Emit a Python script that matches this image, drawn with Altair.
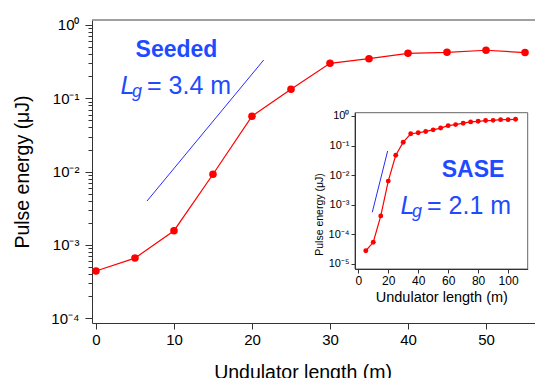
import altair as alt
import pandas as pd

# ---------------- data ----------------
# Seeded FEL (main panel)
seed_len = [0, 5, 10, 15, 20, 25, 30, 35, 40, 45, 50, 55]
seed_energy = [4.4e-4, 6.6e-4, 1.56e-3, 9.2e-3, 0.057, 0.133, 0.30, 0.347, 0.411, 0.424, 0.452, 0.42]
seed_fit_len = [6.54, 21.5]
seed_fit_energy = [3.96e-3, 0.333]

# SASE (inset)
sase_len = [5, 10, 15, 20, 25, 30, 35, 40, 45, 50, 55, 60, 65, 70, 75, 80, 85, 90, 95, 100, 105]
sase_energy = [2.8e-5, 5.4e-5, 4.2e-4, 6.3e-3, 0.047, 0.13, 0.25, 0.27, 0.30, 0.34, 0.39,
               0.47, 0.51, 0.57, 0.63, 0.66, 0.70, 0.71, 0.75, 0.75, 0.77]
sase_fit_len = [9.33, 19.6]
sase_fit_energy = [5.58e-4, 0.0657]

main_x_ticks = [0, 10, 20, 30, 40, 50]
main_y_major = [1e-4, 1e-3, 1e-2, 1e-1, 1e0]
main_y_minor = [m * 10 ** e for e in range(-4, 0) for m in range(2, 10)]
inset_x_ticks = [0, 20, 40, 60, 80, 100]
inset_y_major = [1e-5, 1e-4, 1e-3, 1e-2, 1e-1, 1e0]

x_title = "Undulator length (m)"
y_title = "Pulse energy (μJ)"

# ---------------- layout / style ----------------
W, H = 443, 303
FONT = "Liberation Sans"
RED = "#ff0000"
BLUE_TXT = "#1f4bff"
BLUE_LINE = "#2a2aff"
AX = "#333333"

MAIN_X_DOMAIN = [-0.51, 56.28]
MAIN_Y_DOMAIN = [10 ** -4.066, 10 ** 0.068]
INSET_X_DOMAIN = [-2.2, 113.1]
INSET_Y_DOMAIN = [10 ** -5.17, 10 ** 0.11]
INSET_X_RANGE = [263, 435.7]
INSET_Y_RANGE = [249, 92.7]

L10 = "(log(datum.value)/LN10)"
SUP = f"('' + round({L10}))"
for a, b in [("-", "⁻"), ("0", "⁰"), ("1", "¹"), ("2", "²"), ("3", "³"), ("4", "⁴"), ("5", "⁵")]:
    SUP = f"replace({SUP}, '{a}', '{b}')"
LOG_LABEL = f"'10' + {SUP}"

main_df = pd.DataFrame({"x": seed_len, "y": seed_energy})
seed_fit_df = pd.DataFrame({"x": seed_fit_len, "y": seed_fit_energy})
minor_df = pd.DataFrame({"my": main_y_minor})
sase_df = pd.DataFrame({"ix": sase_len, "iy": sase_energy})
sase_fit_df = pd.DataFrame({"ix": sase_fit_len, "iy": sase_fit_energy})
frame_df = pd.DataFrame({"ix": [INSET_X_DOMAIN[0]], "ix2": [INSET_X_DOMAIN[1]],
                         "iy": [INSET_Y_DOMAIN[0]], "iy2": [INSET_Y_DOMAIN[1]]})

main_x = alt.X(
    "x:Q",
    scale=alt.Scale(domain=MAIN_X_DOMAIN, nice=False, zero=False),
    axis=alt.Axis(values=main_x_ticks, title=x_title, tickSize=6, labelFontSize=15,
                  labelPadding=3, titleFontSize=19.5, titlePadding=16, titleX=210.5,
                  domainColor=AX, tickColor=AX, labelColor="black", titleColor="black",
                  grid=False),
)
main_y = alt.Y(
    "y:Q",
    scale=alt.Scale(type="log", domain=MAIN_Y_DOMAIN, nice=False),
    axis=alt.Axis(orient="left", values=main_y_major, labelExpr=LOG_LABEL, title=y_title,
                  tickSize=7, labelFontSize=15, labelPadding=6, titleFontSize=19.5,
                  titlePadding=18, domainColor=AX, tickColor=AX, labelColor="black",
                  titleColor="black", grid=False, labelOverlap=False),
)

main_line = alt.Chart(main_df).mark_line(color=RED, strokeWidth=1.2).encode(x=main_x, y=main_y)
main_pts = alt.Chart(main_df).mark_circle(color=RED, size=57, opacity=1).encode(x=main_x, y=main_y)
seed_fit = alt.Chart(seed_fit_df).mark_line(color=BLUE_LINE, strokeWidth=1).encode(x=main_x, y=main_y)
top_frame = alt.Chart(pd.DataFrame({"a": [0]})).mark_rule(color="#808080", strokeWidth=1.5).encode(
    x=alt.value(0), x2=alt.value(W), y=alt.value(0))


def label(txt, x, y, size, weight="normal", style="normal", align="left"):
    return alt.Chart(pd.DataFrame({"t": [txt]})).mark_text(
        font=FONT, fontSize=size, fontWeight=weight, fontStyle=style, color=BLUE_TXT,
        align=align, baseline="alphabetic").encode(text="t:N", x=alt.value(x), y=alt.value(y))


main_texts = [
    label("Seeded", 84.5, 37, 23, weight="bold", align="center"),
    label("L", 28.5, 74, 25, style="italic"),
    label("g", 40, 77, 18, style="italic"),
    label("= 3.4 m", 55, 74, 25),
]

main_layer = alt.layer(top_frame, seed_fit, main_line, main_pts, *main_texts)

# minor ticks of the main log axis (same scale, ticks only)
minor_layer = alt.Chart(minor_df).mark_point(opacity=0).encode(
    x=alt.value(0),
    y=alt.Y("my:Q", scale=alt.Scale(type="log", domain=MAIN_Y_DOMAIN, nice=False),
            axis=alt.Axis(orient="left", values=main_y_minor, tickSize=4, labels=False,
                          domain=False, title=None, tickColor=AX, grid=False)),
)

inset_x = alt.X(
    "ix:Q",
    scale=alt.Scale(domain=INSET_X_DOMAIN, range=INSET_X_RANGE, nice=False, zero=False),
    axis=alt.Axis(orient="bottom", offset=-(H - INSET_Y_RANGE[0]), values=inset_x_ticks,
                  title=x_title, tickSize=4, labelFontSize=12, labelPadding=2,
                  titleFontSize=14.5, titlePadding=4, domainColor=AX, tickColor=AX,
                  labelColor="black", titleColor="black", grid=False, zindex=1),
)
inset_y = alt.Y(
    "iy:Q",
    scale=alt.Scale(type="log", domain=INSET_Y_DOMAIN, range=INSET_Y_RANGE, nice=False),
    axis=alt.Axis(orient="left", offset=-INSET_X_RANGE[0], values=inset_y_major,
                  labelExpr=LOG_LABEL, title=y_title, tickSize=4, labelFontSize=11,
                  labelPadding=2, titleFontSize=10.5, titlePadding=4, titleY=194,
                  domainColor=AX, tickColor=AX, labelColor="black", titleColor="black",
                  grid=False, labelOverlap=False, zindex=1),
)

inset_frame = alt.Chart(frame_df).mark_rect(fill="white", stroke="#666666", strokeWidth=1).encode(
    x=inset_x, x2="ix2:Q", y=inset_y, y2="iy2:Q")
sase_fit = alt.Chart(sase_fit_df).mark_line(color=BLUE_LINE, strokeWidth=1).encode(x=inset_x, y=inset_y)
sase_line = alt.Chart(sase_df).mark_line(color=RED, strokeWidth=1.2).encode(x=inset_x, y=inset_y)
sase_pts = alt.Chart(sase_df).mark_circle(color=RED, size=24, opacity=1).encode(x=inset_x, y=inset_y)

inset_texts = [
    label("SASE", 381, 157, 23, weight="bold", align="center"),
    label("L", 308.5, 194, 25, style="italic"),
    label("g", 320, 197, 18, style="italic"),
    label("= 2.1 m", 335, 194, 25),
]

inset_layer = alt.layer(inset_frame, sase_fit, sase_line, sase_pts, *inset_texts)

chart = (
    alt.layer(main_layer, minor_layer, inset_layer)
    .resolve_scale(x="independent", y="independent")
    .properties(width=W, height=H, padding={"left": 92, "top": 20, "right": 0, "bottom": 55},
                autosize=alt.AutoSizeParams(type="none"))
    .configure_view(stroke=None)
    .configure_axis(labelFont=FONT, titleFont=FONT, titleFontWeight="normal")
    .configure_text(font=FONT)
)

chart.save("out.html", embed_options={"renderer": "svg", "actions": False})
